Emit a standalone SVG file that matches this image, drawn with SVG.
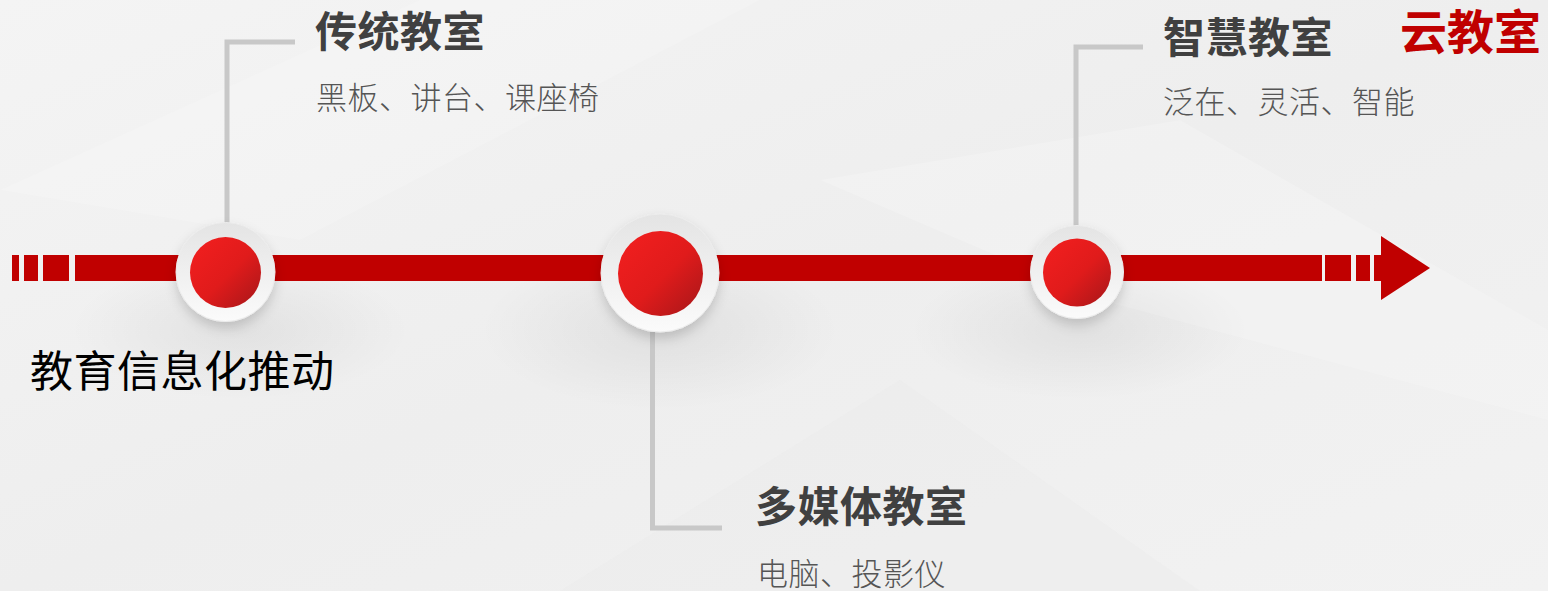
<svg xmlns="http://www.w3.org/2000/svg" width="1548" height="591" viewBox="0 0 1548 591">
<defs>
<linearGradient id="bg" x1="0" y1="0" x2="1" y2="1">
<stop offset="0" stop-color="#f4f4f4"/>
<stop offset="0.5" stop-color="#eeeeee"/>
<stop offset="1" stop-color="#f2f2f2"/>
</linearGradient>
<linearGradient id="ring" x1="0" y1="0" x2="0" y2="1">
<stop offset="0" stop-color="#e4e4e4"/>
<stop offset="1" stop-color="#fbfbfb"/>
</linearGradient>
<linearGradient id="red" x1="0.15" y1="0.15" x2="0.85" y2="0.85">
<stop offset="0" stop-color="#ee1e1e"/>
<stop offset="0.55" stop-color="#e01b1b"/>
<stop offset="1" stop-color="#b8181a"/>
</linearGradient>
<filter id="sh" x="-50%" y="-50%" width="200%" height="200%">
<feDropShadow dx="0" dy="6" stdDeviation="6" flood-color="#000" flood-opacity="0.16"/>
</filter>
<radialGradient id="glow" cx="0.5" cy="0.5" r="0.5">
<stop offset="0" stop-color="#000" stop-opacity="0.06"/>
<stop offset="1" stop-color="#000" stop-opacity="0"/>
</radialGradient>
<style>
.title{font-family:"Noto Sans CJK SC",sans-serif;font-weight:700;font-size:42px;fill:#404040;letter-spacing:0.5px}
.sub{font-family:"Noto Sans CJK SC",sans-serif;font-weight:300;font-size:31px;fill:#555555;letter-spacing:0.5px}
.bar{fill:#c00000}
.conn{fill:none;stroke:#c8c8c8;stroke-width:5}
.ring{fill:url(#ring);stroke:#ececec;stroke-width:1;filter:url(#sh)}
.dot{fill:url(#red)}
</style>
</defs>
<rect width="1548" height="591" fill="url(#bg)"/>
<polygon points="0,190 420,0 760,0 300,240" fill="#ffffff" opacity="0.15"/>
<polygon points="820,180 1180,120 1548,330 1548,420 1100,300" fill="#ffffff" opacity="0.18"/>
<polygon points="560,591 900,380 1200,591" fill="#e8e8e8" opacity="0.25"/>
<ellipse cx="240" cy="330" rx="170" ry="70" fill="url(#glow)"/>
<ellipse cx="660" cy="330" rx="180" ry="80" fill="url(#glow)"/>
<ellipse cx="1080" cy="330" rx="170" ry="70" fill="url(#glow)"/>

<g id="connectors">
<polyline class="conn" points="227,226 227,42 295,42"/>
<polyline class="conn" points="652.5,332 652.5,528 722,528"/>
<polyline class="conn" points="1076,229 1076,47 1143,47"/>
</g>

<g id="timeline">
<rect class="bar" x="12" y="255" width="7" height="26"/>
<rect class="bar" x="24" y="255" width="14" height="26"/>
<rect class="bar" x="43" y="255" width="26" height="26"/>
<rect class="bar" x="75" y="255" width="1247" height="26"/>
<rect class="bar" x="1325" y="255" width="26" height="26"/>
<rect class="bar" x="1356" y="255" width="14" height="26"/>
<rect class="bar" x="1374" y="255" width="8" height="26"/>
<polygon class="bar" points="1381,236 1430,268 1381,300"/>
</g>

<g id="node-traditional">
<circle class="ring" cx="225.5" cy="272" r="49.5"/>
<circle class="dot" cx="225.5" cy="272.5" r="35.5"/>
<text class="title" x="315" y="47">传统教室</text>
<text class="sub" x="316" y="109">黑板、讲台、课座椅</text>
</g>

<g id="node-multimedia">
<circle class="ring" cx="660" cy="273" r="59"/>
<circle class="dot" cx="660.5" cy="273.5" r="42.5"/>
<text class="title" x="755" y="522">多媒体教室</text>
<text class="sub" x="757" y="585">电脑、投影仪</text>
</g>

<g id="node-smart">
<circle class="ring" cx="1077" cy="272" r="46.5"/>
<circle class="dot" cx="1077" cy="272.5" r="34"/>
<text class="title" x="1163" y="53">智慧教室</text>
<text class="sub" x="1163" y="113">泛在、灵活、智能</text>
</g>

<g id="node-cloud">
<text x="1400" y="49" font-family="Noto Sans CJK SC, sans-serif" font-weight="700" font-size="47" fill="#c00000">云教室</text>
</g>

<g id="label-driver">
<text x="30" y="387" font-family="Noto Sans CJK SC, sans-serif" font-size="43" letter-spacing="0.5" fill="#000000">教育信息化推动</text>
</g>
</svg>
